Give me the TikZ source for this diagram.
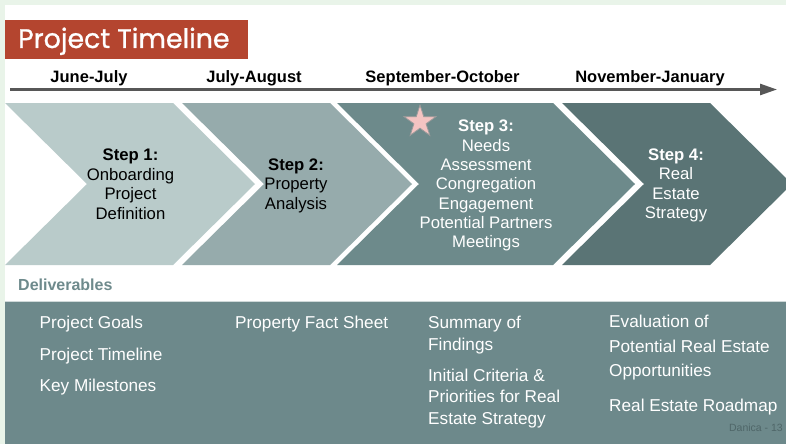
\documentclass[tikz,border=0pt]{standalone}
\usepackage{fontspec}
\setmainfont{Liberation Sans}
\newfontfamily\titlefont[FakeBold=1]{Poppins}
\usetikzlibrary{shapes.geometric,arrows.meta}
\definecolor{frameg}{HTML}{E9F4E9}
\definecolor{titlered}{HTML}{B4452F}
\definecolor{chA}{HTML}{B9CBCA}
\definecolor{chB}{HTML}{96ABAC}
\definecolor{chC}{HTML}{6D8A8B}
\definecolor{chD}{HTML}{5A7475}
\definecolor{panelc}{HTML}{6D898B}
\definecolor{panelline}{HTML}{CFD9D9}
\definecolor{delivc}{HTML}{6E8A8C}
\definecolor{starfill}{HTML}{F4C4C2}
\definecolor{stardraw}{HTML}{9A9A9A}
\definecolor{lineg}{HTML}{575757}
\definecolor{danicac}{HTML}{4F6668}
\begin{document}
\begin{tikzpicture}[x=1pt,y=-1pt,
  period/.style={font=\fontsize{16.5}{19}\selectfont\bfseries, anchor=base, inner sep=0pt, text=black},
  steptext/.style={font=\fontsize{16.7}{19.5}\selectfont, align=center, anchor=base, inner sep=0pt},
  deliv/.style={font=\fontsize{17.2}{21}\selectfont, align=left, anchor=base west, inner sep=0pt, text=white}
]
\clip (0,0) rectangle (786,444);
\fill[frameg] (0,0) rectangle (786,444);
\fill[white] (5,5) rectangle (786,444);
% title
\fill[titlered] (5,20.5) rectangle (248,58.5);
\node[font=\titlefont\fontsize{26.8}{30}\selectfont, text=white, anchor=base west, inner sep=0pt] (title) at (18,48) {Project Timeline};
% timeline
\coordinate (tl0) at (10,89.5);
\coordinate (tl1) at (777,89.5);
\draw[line width=2.5pt, lineg, -{Triangle[length=17pt,width=11pt]}] (tl0) -- (tl1);
\node[period] (p1) at (89,82.5) {June-July};
\node[period] (p2) at (254,82.5) {July-August};
\node[period] (p3) at (442.5,82.5) {September-October};
\node[period] (p4) at (650,82.5) {November-January};
% chevrons
\fill[chA] (5,103) -- (173,103) -- (255,184) -- (173,265) -- (5,265) -- (87,184) -- cycle;
\fill[chB] (182,103) -- (330,103) -- (412,184) -- (330,265) -- (182,265) -- (264,184) -- cycle;
\fill[chC] (337,103) -- (553,103) -- (635,184) -- (553,265) -- (337,265) -- (419,184) -- cycle;
\fill[chD] (562,103) -- (710,103) -- (792,184) -- (710,265) -- (562,265) -- (644,184) -- cycle;
\node[steptext, text=black] (s1) at (130.5,219) {\textbf{Step 1:}\\Onboarding\\Project\\Definition};
\node[steptext, text=black] (s2) at (296,209) {\textbf{Step 2:}\\Property\\Analysis};
\node[steptext, text=white, font=\fontsize{16.7}{19.33}\selectfont] (s3) at (486,247.7) {\textbf{Step 3:}\\Needs\\Assessment\\Congregation\\Engagement\\Potential Partners\\Meetings};
\node[steptext, text=white] (s4) at (676,218.5) {\textbf{Step 4:}\\Real\\Estate\\Strategy};
\node[star, star points=5, star point ratio=2.618, minimum size=33.5pt, inner sep=0pt, fill=starfill, draw=stardraw, line width=0.8pt] (star) at (420,121.8) {};
% deliverables
\node[font=\fontsize{16}{19}\selectfont\bfseries, text=delivc, anchor=base west, inner sep=0pt] (dl) at (18,290) {Deliverables};
\fill[panelc] (5,301) rectangle (786,444);
\draw[panelline, line width=0.8pt] (5,301.4) -- (786,301.4);
\node[deliv] (d1) at (39.5,328) {Project Goals};
\node[deliv] (d2) at (39.5,360) {Project Timeline};
\node[deliv] (d3) at (39.5,391.7) {Key Milestones};
\node[deliv] (d4) at (235,328) {Property Fact Sheet};
\node[deliv, font=\fontsize{17.2}{22}\selectfont] (d5) at (428,350) {Summary of\\Findings};
\node[deliv, font=\fontsize{17.2}{21.2}\selectfont] (d6) at (428,424) {Initial Criteria \&\\Priorities for Real\\Estate Strategy};
\node[deliv, font=\fontsize{17.2}{24.4}\selectfont] (d7) at (609,376.7) {Evaluation of\\Potential Real Estate\\Opportunities};
\node[deliv] (d8) at (609,411.7) {Real Estate Roadmap};
\node[font=\fontsize{10.5}{12}\selectfont, text=danicac, anchor=base east, inner sep=0pt] (dan) at (783,431.7) {Danica - 13};
\end{tikzpicture}
\end{document}
